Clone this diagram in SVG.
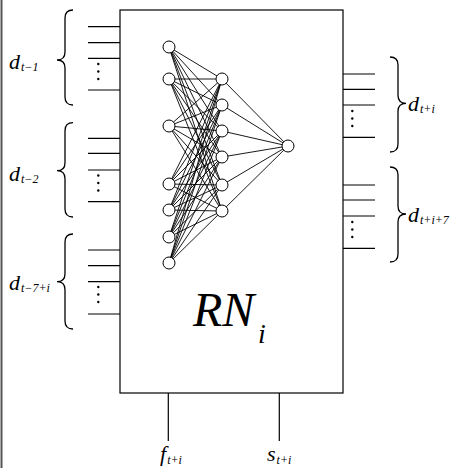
<svg xmlns="http://www.w3.org/2000/svg" width="450" height="468" viewBox="0 0 450 468">
  <defs>
    <style>
      .ln { stroke: #000; stroke-width: 1.2; fill: none; }
      .br { stroke: #000; stroke-width: 1.3; fill: none; }
      .edge { stroke: #000; stroke-width: 0.9; fill: none; }
      .node { fill: #fff; stroke: #000; stroke-width: 1; }
      .dot { fill: #000; }
      .lbl { font-family: "Liberation Serif", "Times New Roman", serif; font-style: italic; fill: #000; font-size: 22px; }
      .sub { font-size: 12px; }
    </style>
    <!-- vertical ellipsis used inside each input/output bundle -->
    <g id="vdots">
      <circle class="dot" cx="0" cy="0" r="1.2"/>
      <circle class="dot" cx="0" cy="7.5" r="1.2"/>
      <circle class="dot" cx="0" cy="15" r="1.2"/>
    </g>
  </defs>

  <rect width="450" height="468" fill="#fff"/>
  <!-- page frame edge on the left -->
  <line x1="1.5" y1="0" x2="1.5" y2="468" stroke="#555" stroke-width="2"/>

  <!-- network block -->
  <g id="block">
    <rect x="120" y="10" width="223" height="383" class="ln" stroke-width="1.3"/>
    <text class="lbl" x="193" y="326" font-size="48" style="font-size:48px">RN</text>
    <text class="lbl" x="258" y="343" style="font-size:28px">i</text>
  </g>

  <!-- input bundles -->
  <g id="in-1">
    <path class="ln" d="M88 26.7H120M88 42.7H120M88 58.3H120M88 90H120"/>
    <use href="#vdots" x="98.3" y="64"/>
    <path class="br" d="M73 10 Q65 10 65 18 V52 Q65 60 57 60 Q65 60 65 68 V97 Q65 105 73 105"/>
    <text class="lbl" x="9" y="69">d<tspan class="sub" dx="1" dy="2">t−1</tspan></text>
  </g>
  <g id="in-2">
    <path class="ln" d="M88 138.3H120M88 153.3H120M88 170H120M88 201.7H120"/>
    <use href="#vdots" x="98.3" y="175.5"/>
    <path class="br" d="M73 122.7 Q65 122.7 65 130.7 V162.7 Q65 170.7 57 170.7 Q65 170.7 65 178.7 V209 Q65 217 73 217"/>
    <text class="lbl" x="9" y="181">d<tspan class="sub" dx="1" dy="2">t−2</tspan></text>
  </g>
  <g id="in-3">
    <path class="ln" d="M88 250H120M88 265.7H120M88 281.7H120M88 314H120"/>
    <use href="#vdots" x="98.3" y="287"/>
    <path class="br" d="M73 234 Q65 234 65 242 V273.7 Q65 281.7 57 281.7 Q65 281.7 65 289.7 V321 Q65 329 73 329"/>
    <text class="lbl" x="9" y="290">d<tspan class="sub" dx="1" dy="2">t−7+i</tspan></text>
  </g>

  <!-- output bundles -->
  <g id="out-1">
    <path class="ln" d="M343 74H375M343 89.3H375M343 105H375M343 137.3H375"/>
    <use href="#vdots" x="352.3" y="111"/>
    <path class="br" d="M390 57 Q398 57 398 65 V95.3 Q398 103.3 406 103.3 Q398 103.3 398 111.3 V144 Q398 152 390 152"/>
    <text class="lbl" x="408" y="111">d<tspan class="sub" dx="1" dy="2">t+i</tspan></text>
  </g>
  <g id="out-2">
    <path class="ln" d="M343 185H375M343 200H375M343 216H375M343 248.3H375"/>
    <use href="#vdots" x="352.3" y="222"/>
    <path class="br" d="M390 167 Q398 167 398 175 V206 Q398 214 406 214 Q398 214 398 222 V254 Q398 262 390 262"/>
    <text class="lbl" x="408" y="222">d<tspan class="sub" dx="1" dy="2">t+i+7</tspan></text>
  </g>

  <!-- bottom inputs -->
  <g id="f">
    <line class="ln" x1="168.3" y1="393" x2="168.3" y2="441"/>
    <text class="lbl" x="160" y="461">f<tspan class="sub" dx="1" dy="3">t+i</tspan></text>
  </g>
  <g id="s">
    <line class="ln" x1="279.3" y1="393" x2="279.3" y2="441"/>
    <text class="lbl" x="267" y="461">s<tspan class="sub" dx="1" dy="3">t+i</tspan></text>
  </g>

  <!-- perceptron: fully connected weights -->
  <g id="connectors">
    <!-- input layer to hidden layer -->
    <path class="edge" d="M169 47L222 79M169 47L222 105M169 47L222 131M169 47L222 157M169 47L222 185M169 47L222 211
             M169 79L222 79M169 79L222 105M169 79L222 131M169 79L222 157M169 79L222 185M169 79L222 211
             M169 126L222 79M169 126L222 105M169 126L222 131M169 126L222 157M169 126L222 185M169 126L222 211
             M169 184L222 79M169 184L222 105M169 184L222 131M169 184L222 157M169 184L222 185M169 184L222 211
             M169 210L222 79M169 210L222 105M169 210L222 131M169 210L222 157M169 210L222 185M169 210L222 211
             M169 237L222 79M169 237L222 105M169 237L222 131M169 237L222 157M169 237L222 185M169 237L222 211
             M169 263L222 79M169 263L222 105M169 263L222 131M169 263L222 157M169 263L222 185M169 263L222 211"/>
    <!-- hidden layer to output -->
    <path class="edge" d="M222 79L288 146M222 105L288 146M222 131L288 146M222 157L288 146M222 185L288 146M222 211L288 146"/>
  </g>

  <g id="input-layer">
    <circle class="node" cx="169" cy="47" r="6"/>
    <circle class="node" cx="169" cy="79" r="6"/>
    <circle class="node" cx="169" cy="126" r="6"/>
    <circle class="node" cx="169" cy="184" r="6"/>
    <circle class="node" cx="169" cy="210" r="6"/>
    <circle class="node" cx="169" cy="237" r="6"/>
    <circle class="node" cx="169" cy="263" r="6"/>
  </g>
  <g id="hidden-layer">
    <circle class="node" cx="222" cy="79" r="6"/>
    <circle class="node" cx="222" cy="105" r="6"/>
    <circle class="node" cx="222" cy="131" r="6"/>
    <circle class="node" cx="222" cy="157" r="6"/>
    <circle class="node" cx="222" cy="185" r="6"/>
    <circle class="node" cx="222" cy="211" r="6"/>
  </g>
  <g id="output-node">
    <circle class="node" cx="288" cy="146" r="6"/>
  </g>
</svg>
